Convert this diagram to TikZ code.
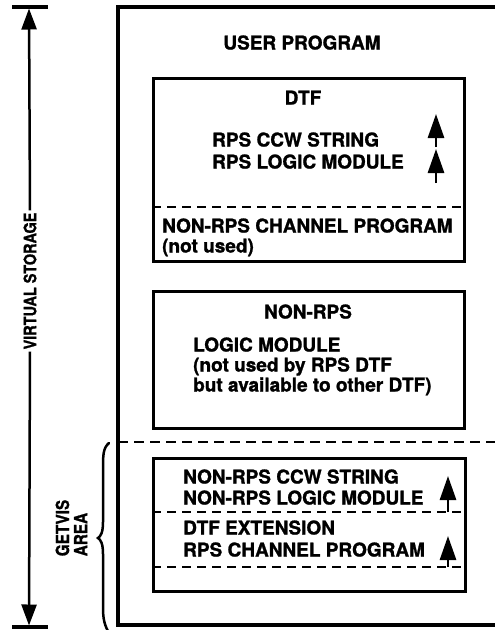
\documentclass[tikz,border=0pt]{standalone}
\usepackage{fontspec}
\setmainfont{TeX Gyre Heros}[BoldFeatures={FakeBold=1.2}]
\usetikzlibrary{arrows.meta}
\begin{document}
\begin{tikzpicture}[x=1pt,y=-1pt,
  lbl/.style={font=\fontsize{19}{22}\selectfont\bfseries, inner sep=0pt, anchor=base west},
  ctr/.style={font=\fontsize{19}{22}\selectfont\bfseries, inner sep=0pt, anchor=base},
  box/.style={draw, line width=3pt},
  outer/.style={draw, line width=3.5pt},
  dline/.style={line width=2.5pt, dash pattern=on 9pt off 6pt},
  uparrow/.style={line width=2.8pt, -{Triangle[width=16pt,length=24pt]}},
  vsarrow/.style={line width=2.5pt, -{Triangle[width=15pt,length=21pt]}},
  bar/.style={line width=3.5pt},
  side/.style={font=\fontsize{17}{17}\selectfont\bfseries, rotate=90, inner sep=0pt},
  ]
\useasboundingbox[fill=white] (0,0) rectangle (495,630);

% outer user program region (open to the right)
\draw[outer] (500,7) -- (118,7) -- (118,625) -- (500,625);
\node[ctr] (user) at (302,49.5) {USER PROGRAM};

% DTF box
\node[box, minimum width=311pt, minimum height=183pt, anchor=north west, inner sep=0pt] (dtf) at (152,77) {};
\coordinate (d1l) at (152,207); \coordinate (d1r) at (463,207);
\draw[dline] (d1l) -- (d1r);
\node[ctr] (dtft) at (303,104.5) {DTF};
\node[lbl] (ccw) at (212,146.5) {RPS CCW STRING};
\node[lbl] (logic) at (212,168.5) {RPS LOGIC MODULE};
\node[lbl] (nrcp) at (162,232.5) {NON-RPS CHANNEL PROGRAM};
\node[lbl] (nu) at (162,252.5) {(not used)};
\coordinate (a1s) at (436,147); \coordinate (a1e) at (436,114);
\coordinate (a2s) at (436,183); \coordinate (a2e) at (436,149);
\draw[uparrow] (a1s) -- (a1e);
\draw[uparrow] (a2s) -- (a2e);

% NON-RPS box
\node[box, minimum width=311pt, minimum height=137pt, anchor=north west, inner sep=0pt] (nrps) at (152,290) {};
\node[ctr] (nrpst) at (308,318.5) {NON-RPS};
\node[lbl] (lm) at (193,351.5) {LOGIC MODULE};
\node[lbl] (nub) at (193,371.5) {(not used by RPS DTF};
\node[lbl] (avail) at (193,391.5) {but available to other DTF)};

% getvis boundary
\coordinate (gl) at (118,442); \coordinate (gr) at (500,442);
\draw[dline, dash pattern=on 10pt off 6pt] (gl) -- (gr);

% GETVIS box
\node[box, minimum width=312pt, minimum height=133pt, anchor=north west, inner sep=0pt] (gbox) at (152,457) {};
\coordinate (g1l) at (152,512); \coordinate (g1r) at (464,512);
\coordinate (g2l) at (152,567); \coordinate (g2r) at (464,567);
\draw[dline] (g1l) -- (g1r);
\draw[dline] (g2l) -- (g2r);
\node[lbl] (nccw) at (183,483.5) {NON-RPS CCW STRING};
\node[lbl] (nlm) at (183,504.5) {NON-RPS LOGIC MODULE};
\node[lbl] (ext) at (183,534.5) {DTF EXTENSION};
\node[lbl] (rcp) at (183,556.5) {RPS CHANNEL PROGRAM};
\coordinate (a3s) at (448,512); \coordinate (a3e) at (448,476);
\coordinate (a4s) at (448,567); \coordinate (a4e) at (448,536);
\draw[uparrow] (a3s) -- (a3e);
\draw[uparrow] (a4s) -- (a4e);

% virtual storage arrow
\coordinate (tbl) at (12,7); \coordinate (tbr) at (48,7);
\coordinate (bbl) at (12,627); \coordinate (bbr) at (48,627);
\draw[bar] (tbl) -- (tbr);
\draw[bar] (bbl) -- (bbr);
\node[side] (vs) at (30,281) {\scalebox{0.85}[1]{VIRTUAL STORAGE}};
\coordinate (vtop) at (29,8.5); \coordinate (vbot) at (29,625.5);
\draw[vsarrow] (vs.east) ++(0,-2) -- (vtop);
\draw[vsarrow] (vs.west) ++(0,2) -- (vbot);

% getvis brace
\draw[line width=2.5pt, line cap=round]
  (109,443) .. controls (103,448) and (103,455) .. (103,470)
  -- (103,522) .. controls (103,532) and (101,536) .. (98,538)
  .. controls (101,540) and (103,544) .. (103,554)
  -- (103,608) .. controls (103,620) and (105,626) .. (109,633);
\node[font=\fontsize{18}{17}\selectfont\bfseries, rotate=90, inner sep=0pt] (getvis) at (74,528)
  {\scalebox{0.85}[1]{\begin{tabular}{@{}l@{}}GETVIS\\AREA\end{tabular}}};
\end{tikzpicture}
\end{document}
